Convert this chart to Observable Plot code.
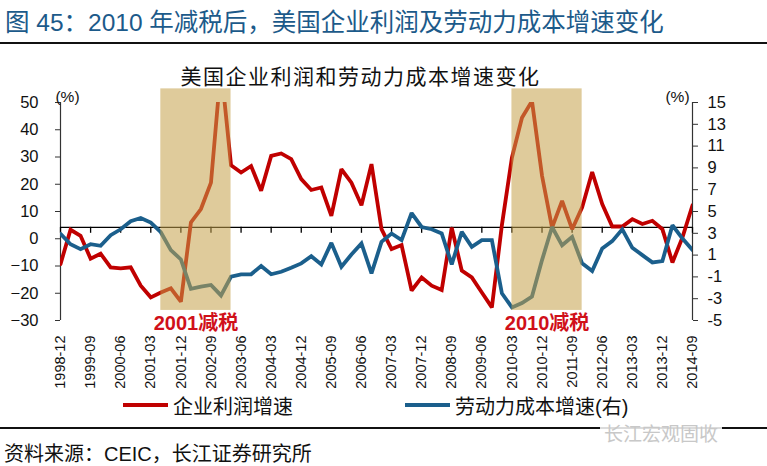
<!DOCTYPE html>
<html>
<head>
<meta charset="utf-8">
<script src="https://cdn.jsdelivr.net/npm/d3@7"></script>
<script src="https://cdn.jsdelivr.net/npm/@observablehq/plot@0.6"></script>
<style>
  html, body { margin: 0; padding: 0; background: #fff; }
  #wrap { position: relative; width: 767px; height: 466px; overflow: hidden;
          font-family: "Liberation Sans", "Noto Sans CJK SC", sans-serif; }
  #head { position: absolute; left: 5px; top: 3px; font-size: 24.5px; color: #1c5a8a; white-space: nowrap; }
  #rule1 { position: absolute; left: 0; top: 42px; width: 767px; height: 2px; background: #111; }
  #chart { position: absolute; left: 0; top: 45px; }
  #legend { position: absolute; top: 391px; left: 0; width: 767px; height: 26px; font-size: 20px; color: #111; }
  .sw { position: absolute; top: 12px; width: 45px; height: 4px; }
  .lt { position: absolute; top: 0; white-space: nowrap; }
  #rule2 { position: absolute; left: 0; top: 427px; width: 767px; height: 1.5px; background: #111; }
  #wm { position: absolute; left: 600px; top: 419px; font-size: 19px; color: #c8c8c8; background: rgba(255,255,255,0.85); padding: 0 4px; white-space: nowrap; }
  #cap { position: absolute; left: 4px; top: 438px; font-size: 20px; color: #111; white-space: nowrap; }
</style>
</head>
<body>
<div id="wrap">
  <div id="head"></div>
  <div id="rule1"></div>
  <div id="chart"></div>
  <div id="legend"></div>
  <div id="rule2"></div>
  <div id="wm"></div>
  <div id="cap"></div>
</div>
<script>
// ---------- data ----------
const headerText = "图 45：2010 年减税后，美国企业利润及劳动力成本增速变化";
const chartTitle = "美国企业利润和劳动力成本增速变化";
const captionText = "资料来源：CEIC，长江证券研究所";
const watermarkText = "长江宏观固收";
const unitLabel = "(%)";

const quarters = [
  "1998-12","1999-03","1999-06","1999-09","1999-12","2000-03","2000-06","2000-09","2000-12",
  "2001-03","2001-06","2001-09","2001-12","2002-03","2002-06","2002-09","2002-12",
  "2003-03","2003-06","2003-09","2003-12","2004-03","2004-06","2004-09","2004-12",
  "2005-03","2005-06","2005-09","2005-12","2006-03","2006-06","2006-09","2006-12",
  "2007-03","2007-06","2007-09","2007-12","2008-03","2008-06","2008-09","2008-12",
  "2009-03","2009-06","2009-09","2009-12","2010-03","2010-06","2010-09","2010-12",
  "2011-03","2011-06","2011-09","2011-12","2012-03","2012-06","2012-09","2012-12",
  "2013-03","2013-06","2013-09","2013-12","2014-03","2014-06","2014-09"
];

const tickLabels = ["1998-12","1999-09","2000-06","2001-03","2001-12","2002-09","2003-06",
  "2004-03","2004-12","2005-09","2006-06","2007-03","2007-12","2008-09","2009-06",
  "2010-03","2010-12","2011-09","2012-06","2013-03","2013-12","2014-09"];

// 企业利润增速 (left axis, %)
const profitGrowth = [
  -9.3, 3.3, 1.1, -7.3, -5.5, -10.5, -10.9, -10.5, -17.2,
  -21.5, -19.7, -18.2, -23.1, 6.0, 10.9, 20.6, 63.0,
  27.0, 24.3, 26.7, 17.6, 30.4, 31.3, 29.2, 21.9,
  17.9, 18.8, 8.4, 25.5, 20.6, 12.3, 27.4, 3.5,
  -3.8, -2.3, -19.0, -14.2, -17.2, -18.8, 4.1, -11.7,
  -14.2, -19.7, -25.2, 5.0, 29.8, 44.4, 50.5, 23.1,
  4.1, 13.9, 3.5, 11.5, 24.5, 12.7, 4.5, 4.5,
  7.2, 5.4, 6.6, 3.5, -8.7, 0.5, 12.3
];

// 劳动力成本增速 (right axis, %)
const laborCostGrowth = [
  2.95, 2.0, 1.55, 2.0, 1.85, 2.83, 3.37, 4.1, 4.4,
  3.98, 3.1, 1.46, 0.6, -2.1, -1.9, -1.74, -2.7,
  -0.98, -0.76, -0.76, 0.0, -0.76, -0.53, -0.16, 0.24,
  0.9, 0.15, 2.12, -0.07, 1.06, 2.07, -0.67, 2.21,
  2.98, 2.37, 4.86, 3.58, 3.37, 2.98, 0.15, 3.13,
  1.76, 2.37, 2.37, -2.5, -3.8, -3.4, -2.8, 0.54,
  3.58, 1.9, 2.67, 0.24, -0.46, 1.6, 2.28, 3.37,
  1.67, 1.0, 0.33, 0.45, 3.74, 2.52, 1.46
];

const leftTicks = [-30, -20, -10, 0, 10, 20, 30, 40, 50];
const rightTicks = [-5, -3, -1, 1, 3, 5, 7, 9, 11, 13, 15];
const baselineValue = 4.2; // where the category axis crosses (left units)

// tax-cut shaded periods
const shadeStart = ["2001-06", "2010-03"];
const shadeEnd = ["2003-03", "2011-12"];
const shadeLabels = ["2001减税", "2010减税"];
const shadeTop = 55;      // left-axis units
const shadeBottom = -26.3;

const seriesNames = ["企业利润增速", "劳动力成本增速(右)"];
const colors = { profit: "#c00000", labor: "#1b5f8c", shade: "rgb(196,160,72)", shadeText: "#d0101a" };

// ---------- derived ----------
const L = leftTicks, R = rightTicks;
const r2l = r => L[0] + (r - R[0]) * (L[L.length - 1] - L[0]) / (R[R.length - 1] - R[0]);
const l2r = l => R[0] + (l - L[0]) * (R[R.length - 1] - R[0]) / (L[L.length - 1] - L[0]);

const profit = quarters.map((q, i) => ({ i, v: profitGrowth[i] }));
const labor = quarters.map((q, i) => ({ i, v: r2l(laborCostGrowth[i]) }));
const shades = shadeStart.map((s, k) => ({
  x1: quarters.indexOf(s), x2: quarters.indexOf(shadeEnd[k]),
  label: shadeLabels[k]
}));
const tickIdx = tickLabels.map(t => quarters.indexOf(t));

const font = "Liberation Sans, Noto Sans CJK SC, sans-serif";

const chart = Plot.plot({
  width: 767,
  height: 350,
  marginLeft: 60,
  marginRight: 75,
  marginTop: 57,
  marginBottom: 75,
  style: { fontFamily: font, background: "transparent", color: "#111" },
  x: { type: "linear", domain: [0, quarters.length - 1] },
  y: { domain: [L[0], L[L.length - 1]] },
  marks: [
    Plot.ruleX([0, quarters.length - 1], { y1: L[0], y2: L[L.length - 1], stroke: "#333", strokeWidth: 1.2 }),
    Plot.ruleY([baselineValue], { stroke: "#000", strokeWidth: 1.3 }),
    Plot.ruleX(tickIdx, { y1: baselineValue, y2: baselineValue, insetBottom: -6, stroke: "#000", strokeWidth: 1.3 }),
    Plot.line(profit, { x: "i", y: "v", stroke: colors.profit, strokeWidth: 3.8, clip: true, strokeLinejoin: "miter", strokeMiterlimit: 2 }),
    Plot.line(labor, { x: "i", y: "v", stroke: colors.labor, strokeWidth: 3.8, clip: true, strokeLinejoin: "miter", strokeMiterlimit: 2 }),
    Plot.rect(shades, { x1: "x1", x2: "x2", y1: shadeBottom, y2: shadeTop, fill: colors.shade, fillOpacity: 0.55 }),
    Plot.text(shades, { x: d => (d.x1 + d.x2) / 2, y: shadeBottom, text: "label", dy: 13, fill: colors.shadeText, fontSize: 20, fontWeight: "bold", textAnchor: "middle" }),
    Plot.axisY({ anchor: "left", ticks: L, tickSize: 5, tickPadding: 17, fontSize: 16.5, label: null, stroke: "#333" }),
    Plot.axisY({ anchor: "right", ticks: R.map(r2l), tickFormat: d => String(Math.round(l2r(d))), tickSize: 5, tickPadding: 10, fontSize: 16.5, label: null, stroke: "#333" }),
    Plot.axisX({ ticks: tickIdx, tickFormat: d => quarters[d], tickRotate: -90, tickSize: 0, tickPadding: 15, fontSize: 14.5, label: null }),
    Plot.text([chartTitle], { frameAnchor: "top", dx: -16, dy: -33, fontSize: 21, text: d => d, fill: "#111" }),
    Plot.text([unitLabel], { frameAnchor: "top-left", dx: 7, dy: -12, fontSize: 15.5, text: d => d, textAnchor: "middle", fill: "#111" }),
    Plot.text([unitLabel], { frameAnchor: "top-right", dx: -15, dy: -12, fontSize: 15.5, text: d => d, textAnchor: "middle", fill: "#111" })
  ]
});
document.getElementById("chart").appendChild(chart);
chart.querySelectorAll("text").forEach(t => { if (t.textContent === chartTitle) t.setAttribute("letter-spacing", "1.5"); });

document.getElementById("head").textContent = headerText;
document.getElementById("cap").textContent = captionText;
document.getElementById("wm").textContent = watermarkText;

const lg = document.getElementById("legend");
const items = [
  { name: seriesNames[0], color: colors.profit, sx: 123, tx: 173 },
  { name: seriesNames[1], color: colors.labor, sx: 405, tx: 455 }
];
items.forEach(it => {
  const s = document.createElement("div"); s.className = "sw";
  s.style.left = it.sx + "px"; s.style.background = it.color; lg.appendChild(s);
  const t = document.createElement("div"); t.className = "lt";
  t.style.left = it.tx + "px"; t.textContent = it.name; lg.appendChild(t);
});
</script>
</body>
</html>
